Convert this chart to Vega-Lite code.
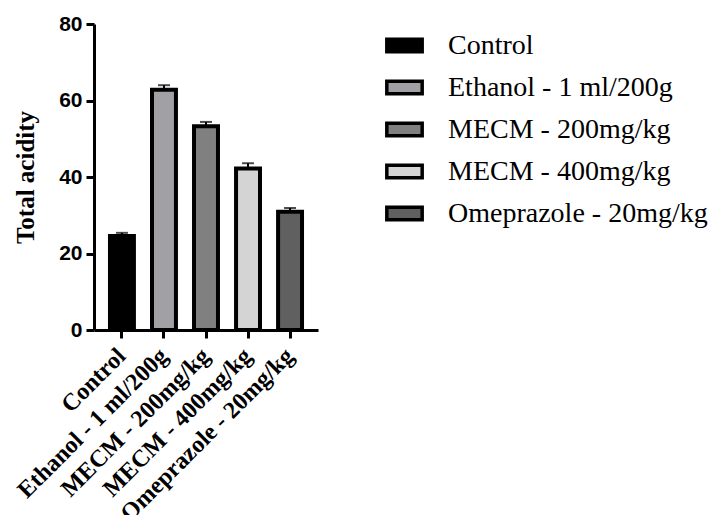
{
  "$schema": "https://vega.github.io/schema/vega-lite/v6.json",
  "autosize": {"type": "none"},
  "padding": {"left": 94, "top": 24, "right": 394, "bottom": 185},
  "width": 224,
  "height": 306,
  "background": "white",
  "data": {"values": [
    {"group": "Control", "mean": 24.6, "upper": 25.4},
    {"group": "Ethanol - 1 ml/200g", "mean": 62.8, "upper": 64.0},
    {"group": "MECM - 200mg/kg", "mean": 53.3, "upper": 54.4},
    {"group": "MECM - 400mg/kg", "mean": 42.2, "upper": 43.6},
    {"group": "Omeprazole - 20mg/kg", "mean": 30.9, "upper": 31.9}
  ]},
  "config": {
    "view": {"stroke": null},
    "axis": {"grid": false, "domainColor": "black", "domainWidth": 3, "tickColor": "black", "tickWidth": 3, "tickSize": 8, "labelColor": "black", "titleColor": "black"}
  },
  "encoding": {
    "x": {
      "field": "group", "type": "nominal", "sort": null,
      "scale": {"paddingInner": 0.43, "paddingOuter": 0.38},
      "axis": {"title": null, "labelAngle": -45, "labelAlign": "right", "labelBaseline": "middle", "labelFont": "Liberation Serif", "labelFontWeight": "bold", "labelFontSize": 24, "labelPadding": 14, "labelLimit": 500}
    }
  },
  "layer": [
    {
      "mark": {"type": "bar", "stroke": "black", "strokeWidth": 4},
      "encoding": {
        "y": {"field": "mean", "type": "quantitative", "scale": {"domain": [0, 80]},
          "axis": {"values": [0, 20, 40, 60, 80], "title": "Total acidity", "titleFont": "Liberation Serif", "titleFontWeight": "bold", "titleFontSize": 25, "titlePadding": 20, "labelFont": "Liberation Sans", "labelFontWeight": "bold", "labelFontSize": 21, "labelPadding": 4}},
        "fill": {"field": "group", "type": "nominal", "sort": null,
          "scale": {"domain": ["Control", "Ethanol - 1 ml/200g", "MECM - 200mg/kg", "MECM - 400mg/kg", "Omeprazole - 20mg/kg"], "range": ["#000000", "#a1a1a5", "#808080", "#d4d4d4", "#606060"]},
          "legend": {"title": null, "orient": "none", "legendX": 291, "legendY": 2, "symbolType": "M-1,-0.35H1V0.35H-1Z", "symbolSize": 1250, "symbolStrokeColor": "black", "symbolStrokeWidth": 3.5, "symbolOpacity": 1, "labelFont": "Liberation Serif", "labelFontSize": 28, "labelColor": "black", "labelOffset": 24, "rowPadding": 8, "labelLimit": 500}}
      }
    },
    {
      "mark": {"type": "rule", "color": "black", "strokeWidth": 2},
      "encoding": {"y": {"field": "mean", "type": "quantitative"}, "y2": {"field": "upper"}}
    },
    {
      "mark": {"type": "tick", "color": "black", "thickness": 2, "size": 12},
      "encoding": {"y": {"field": "upper", "type": "quantitative"}}
    }
  ]
}
